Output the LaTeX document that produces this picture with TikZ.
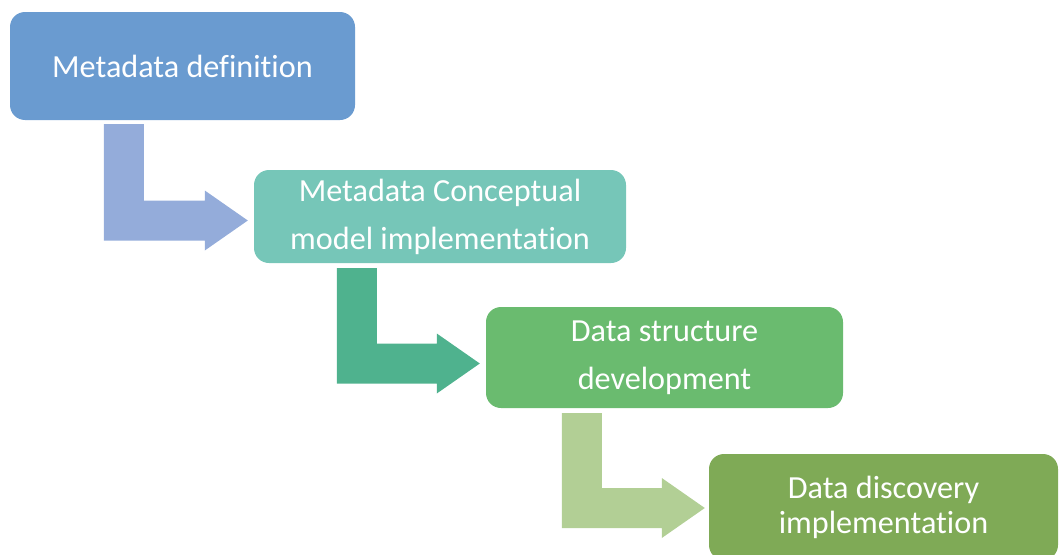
\documentclass[tikz,border=0pt]{standalone}
\usepackage{fontspec}
\setmainfont{Carlito}[Ligatures=NoCommon]
\usetikzlibrary{calc}
\definecolor{cbox1}{HTML}{6A9BD0}
\definecolor{carr1}{HTML}{94ACDA}
\definecolor{cbox2}{HTML}{76C6B8}
\definecolor{carr2}{HTML}{4FB28E}
\definecolor{cbox3}{HTML}{6ABB6F}
\definecolor{carr3}{HTML}{B2CF95}
\definecolor{cbox4}{HTML}{7FAA56}
\newcommand\bentarrow[3]{%
  \fill[#1] let \p1=(#2), \p2=(#3) in
    (\x1,\y1) -- (\x1+40pt,\y1) -- (\x1+40pt,\y2+20pt) -- (\x2-43pt,\y2+20pt)
    -- (\x2-43pt,\y2+30pt) -- (\x2,\y2) -- (\x2-43pt,\y2-30pt)
    -- (\x2-43pt,\y2-20pt) -- (\x1,\y2-20pt) -- cycle;}
\begin{document}
\begin{tikzpicture}[x=1pt,y=-1pt,
  stage/.style={fill=#1, draw=none, rounded corners=15pt, inner sep=0pt,
    text=white, align=center, font=\fontsize{32.2}{48}\selectfont}]
\useasboundingbox (0,0) rectangle (1059,554);
\clip (0,0) rectangle (1059,554);
\node[stage=cbox1, minimum width=345pt, minimum height=108pt] (b1) at (182.5,66) {Metadata definition};
\node[stage=cbox2, minimum width=372pt, minimum height=93pt] (b2) at (440,216.5) {Metadata Conceptual\\model implementation};
\node[stage=cbox3, minimum width=357pt, minimum height=101pt] (b3) at (664.5,357.5) {Data structure\\development};
\node[stage=cbox4, minimum width=349pt, minimum height=106pt, font=\fontsize{32.2}{35}\selectfont] (b4) at (883.5,507) {Data discovery\\implementation};
\coordinate (s1) at ($(b1.south west)+(94,4)$);
\coordinate (t1) at ($(b2.west)+(-6,4)$);
\coordinate (s2) at ($(b2.south west)+(83,5)$);
\coordinate (t2) at ($(b3.west)+(-6,6)$);
\coordinate (s3) at ($(b3.south west)+(76,5)$);
\coordinate (t3) at ($(b4.west)+(-4,1)$);
\bentarrow{carr1}{s1}{t1}
\bentarrow{carr2}{s2}{t2}
\bentarrow{carr3}{s3}{t3}
\end{tikzpicture}
\end{document}
